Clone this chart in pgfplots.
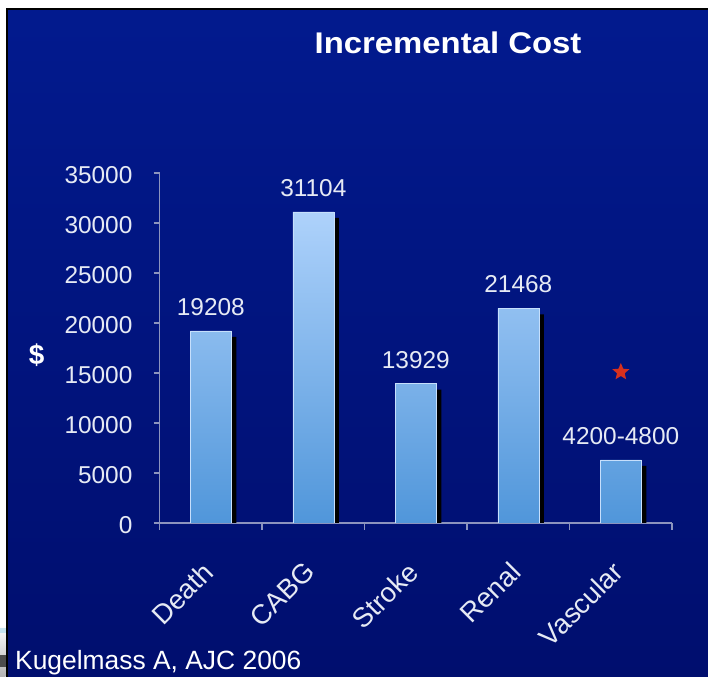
\documentclass[border=0pt]{standalone}
\usepackage{pgfplots}
\usepackage{pgfplotstable}
\pgfplotsset{compat=1.18}
\usepackage{fontspec}
\setmainfont{Liberation Sans}

\definecolor{panelTop}{RGB}{2,26,142}
\definecolor{panelBot}{RGB}{0,14,110}
\definecolor{barTop}{RGB}{174,210,251}
\definecolor{barBot}{RGB}{80,150,218}
\definecolor{axisGrey}{RGB}{140,148,190}
\definecolor{labelWhite}{RGB}{230,234,244}
\definecolor{starRed}{RGB}{214,48,30}

% five-pointed filled star
\pgfdeclareplotmark{filledstar}{%
  \pgfpathmoveto{\pgfpointpolar{90}{\pgfplotmarksize}}%
  \pgfpathlineto{\pgfpointpolar{126}{0.45\pgfplotmarksize}}%
  \pgfpathlineto{\pgfpointpolar{162}{\pgfplotmarksize}}%
  \pgfpathlineto{\pgfpointpolar{198}{0.45\pgfplotmarksize}}%
  \pgfpathlineto{\pgfpointpolar{234}{\pgfplotmarksize}}%
  \pgfpathlineto{\pgfpointpolar{270}{0.45\pgfplotmarksize}}%
  \pgfpathlineto{\pgfpointpolar{306}{\pgfplotmarksize}}%
  \pgfpathlineto{\pgfpointpolar{342}{0.45\pgfplotmarksize}}%
  \pgfpathlineto{\pgfpointpolar{18}{\pgfplotmarksize}}%
  \pgfpathlineto{\pgfpointpolar{54}{0.45\pgfplotmarksize}}%
  \pgfpathclose
  \pgfusepathqfill
}

% incremental cost per complication
\pgfplotstableread{
x y label
0 19208 19208
1 31104 31104
2 13929 13929
3 21468 21468
4 6300 4200-4800
}\costdata

\begin{document}
\begin{tikzpicture}[x=1bp,y=1bp]
\path[use as bounding box] (0,0) rectangle (708,677);
\fill[white] (0,0) rectangle (708,677);
\shade[top color=panelTop, bottom color=panelBot] (7,0) rectangle (708,668);
\draw[black, line width=2bp] (7,0) -- (7,668) -- (708,668);
% fragment of a neighbouring picture at the lower left
\shade[top color=white, bottom color=gray!60] (0,0) rectangle (5.5,52);
\fill[black!70] (0,10) rectangle (5.5,22);
\fill[gray!40!cyan!30] (0,44) rectangle (5.5,49);

\node[text=white, font=\bfseries\fontsize{30}{34}\selectfont, xscale=1.1] at (448,634) {Incremental Cost};
\node[text=white, font=\fontsize{26.5}{30}\selectfont, anchor=base west, inner sep=0pt] at (15,7) {Kugelmass A, AJC 2006};

\begin{axis}[
  at={(155.7,154)}, anchor=south west,
  scale only axis, width=512.5bp, height=350bp,
  xmin=-0.5, xmax=4.5, ymin=0, ymax=35000,
  axis x line*=bottom, axis y line*=left,
  axis line style={axisGrey, line width=1.3bp},
  tick style={axisGrey, line width=1.3bp},
  tick align=outside,
  ytick={0,5000,...,35000},
  scaled y ticks=false,
  major tick length=6bp,
  xtick={0,...,4},
  xticklabels={Death,CABG,Stroke,Renal,Vascular},
  every major x tick/.append style={draw=none},
  minor xtick={-0.5,0.5,...,4.5},
  minor tick length=7bp,
  /pgf/number format/1000 sep={},
  /pgf/number format/assume math mode=true,
  ticklabel style={text=labelWhite, font=\fontsize{24.5}{27}\selectfont},
  yticklabel style={anchor=east, inner sep=0pt, xshift=-21bp, yshift=-2bp},
  xticklabel style={inner sep=0pt, anchor=north east, xshift=-10bp, yshift=-31bp, rotate=45,
    font=\fontsize{27.5}{29}\selectfont},
  ylabel={\$},
  ylabel style={rotate=-90, text=white, font=\bfseries\fontsize{28}{30}\selectfont,
    at={(axis description cs:-0.24,0.48)}, anchor=center},
]
\addplot[ybar, bar width=41bp, bar shift=0pt, draw=none,
  preaction={fill=black, transform canvas={xshift=5bp, yshift=-6bp}},
  postaction={draw=barTop!70!white, line width=0.6bp,
    top color=barTop, bottom color=barBot},
  nodes near coords,
  point meta=explicit symbolic,
  every node near coord/.append style={text=labelWhite,
    font=\fontsize{24.5}{27}\selectfont, anchor=south, inner sep=0pt, yshift=15bp},
] table[x=x, y=y, meta=label] {\costdata};
\addplot[only marks, mark=filledstar, mark size=9bp, color=starRed]
  coordinates {(4,15100)};
\end{axis}
\end{tikzpicture}
\end{document}
